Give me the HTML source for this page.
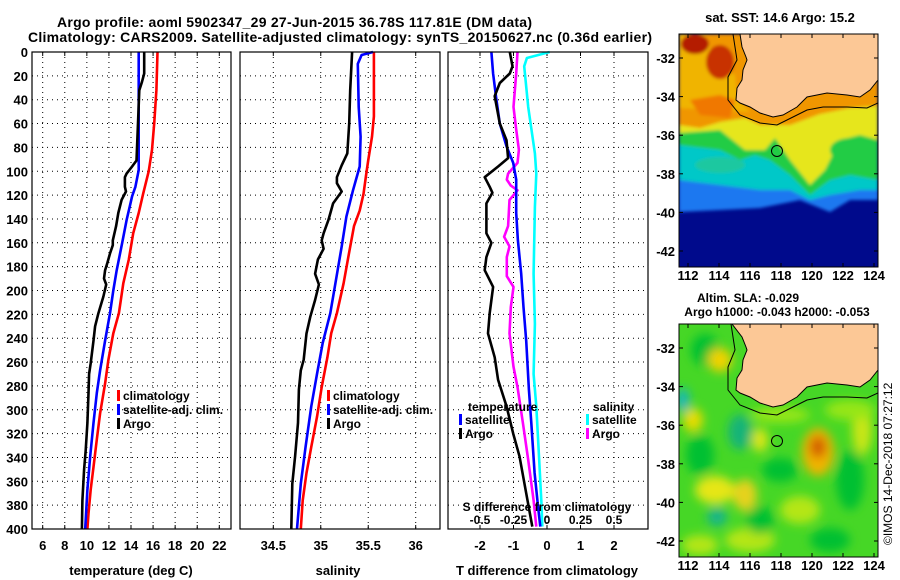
<!DOCTYPE html>
<html><head><meta charset="utf-8"><style>
html,body{margin:0;padding:0;background:#fff;}
svg{display:block;font-family:"Liberation Sans",Arial,sans-serif;font-weight:bold;}
</style></head><body>
<svg id="s" width="900" height="580" viewBox="0 0 900 580" xmlns="http://www.w3.org/2000/svg">
<defs>
<filter id="blur" x="-50%" y="-50%" width="200%" height="200%"><feGaussianBlur stdDeviation="5"/></filter>
<filter id="blur2" x="-20%" y="-20%" width="140%" height="140%"><feGaussianBlur stdDeviation="1.5"/></filter>
<clipPath id="c1"><rect x="679" y="34" width="199" height="233"/></clipPath>
<clipPath id="c2"><rect x="679" y="324" width="199" height="233"/></clipPath>
</defs>
<text x="57" y="27" font-size="14" textLength="475">Argo profile: aoml 5902347_29 27-Jun-2015 36.78S 117.81E (DM data)</text>
<text x="28" y="42" font-size="14" textLength="624">Climatology: CARS2009. Satellite-adjusted climatology: synTS_20150627.nc (0.36d earlier)</text>

<g id="maps">
<g clip-path="url(#c1)">
<rect x="679" y="34" width="199" height="233" fill="#000a8c"/>
<g filter="url(#blur2)">
<polygon points="679,34 878,34 878,200 850,200 830,212 800,200 760,208 720,210 679,212" fill="#1e78f0"/>
<polygon points="679,34 878,34 878,190 860,190 830,195 810,200 790,190 760,190 720,185 679,180" fill="#00c8c8"/>
<polygon points="679,34 878,34 878,180 850,175 830,180 810,195 790,175 770,160 755,155 740,160 720,150 679,145" fill="#22cc44"/>
<polygon points="679,34 878,34 878,140 860,135 840,140 825,170 810,185 790,160 775,138 765,150 745,150 720,130 679,133" fill="#e6e61e"/>
<polygon points="679,34 878,34 878,106 850,108 820,114 790,125 760,125 745,118 720,122 700,128 679,125" fill="#f09600"/>
<polygon points="679,34 705,34 715,60 735,75 738,100 750,112 720,110 679,108" fill="#f0b400"/>
<polygon points="690,100 720,95 735,100 730,118 700,115" fill="#f07800"/>
<ellipse cx="720" cy="62" rx="14" ry="17" fill="#c83200"/>
<ellipse cx="695" cy="44" rx="14" ry="10" fill="#b41e00"/>
<ellipse cx="850" cy="150" rx="20" ry="12" fill="#22cc44"/>
<ellipse cx="720" cy="165" rx="25" ry="8" fill="#1ec8a0"/>
</g>
<polygon points="740,34 742,47 746,57 747,60 743,70 742,80 737,88 736,100 740,103 750,107 760,113 773,117 783,115 797,107 807,97 827,93 847,95 860,97 870,90 878,80 878,34" fill="#fcc896" stroke="#000" stroke-width="1"/>
<polyline points="733,34 737,60 728,77 728,100 740,115 760,123 777,125 793,117 807,110 823,107 847,107 867,108 878,103" fill="none" stroke="#000" stroke-width="1"/>
<circle cx="777" cy="151" r="5.5" fill="none" stroke="#000" stroke-width="1"/>
</g>
<rect x="679" y="34" width="199" height="233" fill="none" stroke="#000"/>

<g clip-path="url(#c2)">
<rect x="679" y="324" width="199" height="233" fill="#46d726"/>
<g filter="url(#blur)">
<ellipse cx="705" cy="350" rx="14" ry="16" fill="#00c030"/>
<ellipse cx="720" cy="360" rx="12" ry="12" fill="#f0d200"/>
<ellipse cx="693" cy="420" rx="10" ry="12" fill="#e6dc00"/>
<ellipse cx="715" cy="490" rx="20" ry="14" fill="#e6e614"/>
<ellipse cx="745" cy="495" rx="12" ry="16" fill="#e6d21e"/>
<ellipse cx="818" cy="452" rx="16" ry="24" fill="#f0b400"/>
<ellipse cx="818" cy="447" rx="8" ry="11" fill="#d25a00"/>
<ellipse cx="800" cy="510" rx="20" ry="14" fill="#b4e614"/>
<ellipse cx="760" cy="440" rx="8" ry="12" fill="#dce614"/>
<ellipse cx="740" cy="432" rx="12" ry="18" fill="#14b478"/>
<ellipse cx="717" cy="517" rx="10" ry="9" fill="#14b48c"/>
<ellipse cx="683" cy="400" rx="6" ry="12" fill="#14b4c8"/>
<ellipse cx="750" cy="540" rx="25" ry="12" fill="#b4e614"/>
<ellipse cx="862" cy="430" rx="10" ry="25" fill="#c8e614"/>
<ellipse cx="700" cy="455" rx="14" ry="20" fill="#00c030"/>
<ellipse cx="780" cy="470" rx="18" ry="12" fill="#00c030"/>
<ellipse cx="850" cy="480" rx="14" ry="30" fill="#00c030"/>
<ellipse cx="760" cy="520" rx="14" ry="14" fill="#00c030"/>
<ellipse cx="830" cy="540" rx="20" ry="12" fill="#00c030"/>
<ellipse cx="700" cy="545" rx="18" ry="10" fill="#b4e614"/>
<ellipse cx="780" cy="415" rx="30" ry="8" fill="#96e614"/>
<ellipse cx="850" cy="410" rx="25" ry="10" fill="#96e614"/>
</g>
<polygon points="732,324 742,337 746,347 747,350 743,360 742,370 737,378 736,390 740,393 750,397 760,403 773,407 783,405 797,397 807,387 827,383 847,385 860,387 870,380 878,370 878,324" fill="#fcc896" stroke="#000" stroke-width="1"/>
<polyline points="731,324 735,350 728,367 728,390 740,405 760,413 777,415 793,407 807,400 823,397 847,397 867,398 878,393" fill="none" stroke="#000" stroke-width="1"/>
<circle cx="777" cy="441" r="5.5" fill="none" stroke="#000" stroke-width="1"/>
</g>
<rect x="679" y="324" width="199" height="233" fill="none" stroke="#000"/>
<text x="780" y="22" font-size="13" text-anchor="middle">sat. SST: 14.6 Argo: 15.2</text>
<text x="748" y="302" font-size="12" text-anchor="middle">Altim. SLA: -0.029</text>
<text x="777" y="316" font-size="12" text-anchor="middle">Argo h1000: -0.043 h2000: -0.053</text>
<text transform="translate(892,545) rotate(-90)" font-size="12" font-weight="normal">©IMOS 14-Dec-2018 07:27:12</text>
</g>
<g id="plots"></g>
</svg>
<script>
// depth axis
const depthTicks=[0,20,40,60,80,100,120,140,160,180,200,220,240,260,280,300,320,340,360,380,400];
// temperature panel
const tempTicks=[6,8,10,12,14,16,18,20,22];
const tClimD=[0,32,60,82,100,119,135,152,174,194,219,236,258,278,303,325,348,367,387,400];
const tClim=[16.4,16.3,16.1,15.9,15.6,15.1,14.7,14.2,13.8,13.3,12.9,12.4,11.95,11.65,11.2,10.9,10.6,10.35,10.15,10.05];
const tSatD=[0,99,113,121,141,160,183,200,219,242,267,286,311,339,367,400];
const tSat=[14.7,14.7,14.4,14.1,13.6,13.2,12.7,12.4,12.1,11.65,11.2,10.9,10.6,10.3,10.05,9.85];
const tArgoD=[0,18,25,32,68,91,96,102,105,113,117,124,135,146,158,162,169,177,183,190,195,205,219,230,242,261,270,286,311,334,350,376,400];
const tArgo=[15.2,15.2,15.0,14.75,14.6,14.5,14.1,13.6,13.45,13.45,13.55,13.15,12.85,12.65,12.35,12.35,12.1,11.85,11.65,11.55,11.75,11.5,11.05,10.75,10.6,10.35,10.2,10.15,10.05,9.9,9.75,9.6,9.55];
// salinity panel
const salTicks=[34.5,35,35.5,36];
const sClimD=[0,54,71,91,102,119,133,146,172,194,219,236,256,281,306,331,353,376,400];
const sClim=[35.56,35.56,35.54,35.50,35.48,35.45,35.41,35.35,35.29,35.24,35.17,35.11,35.07,35.01,34.96,34.90,34.85,34.81,34.79];
const sSatD=[0,2.5,10,46,71,96,116,138,163,191,219,244,270,297,331,362,400];
const sSat=[35.55,35.43,35.39,35.40,35.42,35.41,35.34,35.27,35.22,35.16,35.10,35.02,34.96,34.90,34.84,34.79,34.75];
const sArgoD=[0,32,60,85,95,105,110,117,127,141,152,158,165,174,186,195,208,222,236,258,267,283,311,339,362,400];
const sArgo=[35.33,35.31,35.30,35.28,35.22,35.17,35.17,35.22,35.13,35.08,35.03,35.01,35.03,34.97,34.94,34.98,34.94,34.89,34.85,34.82,34.79,34.77,34.76,34.73,34.70,34.69];
// difference panel
const dTTicks=[-2,-1,0,1,2];
const dSTicks=["-0.5","-0.25","0","0.25","0.5"];
const dTSatD=[0,18,40,60,79,93,107,135,158,186,214,242,283,311,353,381,398];
const dTSat=[-1.66,-1.61,-1.51,-1.41,-1.21,-1.01,-0.92,-0.92,-0.87,-0.77,-0.70,-0.62,-0.54,-0.47,-0.37,-0.27,-0.20];
const dTArgoD=[0,12,18,26,37,60,74,89,96,105,113,118,127,152,160,172,183,197,219,236,256,275,297,320,339,370,398];
const dTArgo=[-1.11,-1.03,-1.11,-1.41,-1.56,-1.41,-1.21,-1.16,-1.46,-1.86,-1.71,-1.63,-1.81,-1.81,-1.66,-1.81,-1.86,-1.61,-1.71,-1.76,-1.56,-1.46,-1.21,-1.01,-0.82,-0.62,-0.44];
const dSSatD=[0,5,12,46,85,102,130,186,228,270,297,339,381,398];
const dSSat=[0.02,-0.15,-0.17,-0.14,-0.09,-0.08,-0.09,-0.10,-0.09,-0.10,-0.08,-0.06,-0.04,-0.035];
const dSArgoD=[0,18,46,65,82,93,102,107,112,116,124,146,155,163,172,188,197,214,236,264,281,311,342,376,398];
const dSArgo=[-0.22,-0.23,-0.25,-0.23,-0.21,-0.22,-0.29,-0.30,-0.27,-0.22,-0.28,-0.29,-0.32,-0.28,-0.30,-0.30,-0.25,-0.27,-0.28,-0.25,-0.22,-0.18,-0.14,-0.10,-0.08];
// map axes
const lonTicks=[112,114,116,118,120,122,124];
const latTicks=[-32,-34,-36,-38,-40,-42];

const NS="http://www.w3.org/2000/svg";
const G=document.getElementById('plots');
function mk(tag,attrs,parent){const e=document.createElementNS(NS,tag);for(const k in attrs)e.setAttribute(k,attrs[k]);(parent||G).appendChild(e);return e;}
const Y0=52,Y1=529;
function yD(d){return Y0+(d/400)*(Y1-Y0);}
function lin(d0,d1,r0,r1){return v=>r0+(v-d0)/(d1-d0)*(r1-r0);}
const xT=lin(6,22,42.7,219.3);
const xS=lin(34.5,36,273.3,415.7);
const xDT=lin(-2,2,480,614);
const xDS=lin(-0.5,0.5,480,614);
const panels=[[32,231],[240,440],[448,648]];

function grid(px,xs){
  depthTicks.forEach(d=>{const y=yD(d);if(d>0&&d<400){const l=mk('line',{x1:px[0],x2:px[1],y1:y,y2:y,stroke:'#000','stroke-dasharray':'1,4','stroke-width':1});
  
  }});
  xs.forEach(x=>{const l=mk('line',{x1:x,x2:x,y1:Y0,y2:Y1,stroke:'#000','stroke-dasharray':'1,4','stroke-width':1});
  
  
  [[Y0,Y0+4],[Y1-4,Y1]].forEach(t=>{const tk=mk('line',{x1:x,x2:x,y1:t[0],y2:t[1],stroke:'#000'});
  
  });});
}
function frame(px,name){const r=mk('rect',{x:px[0],y:Y0,width:px[1]-px[0],height:Y1-Y0,fill:'none',stroke:'#000','stroke-width':1.2});

}
function line(ds,vs,sc,col,name){const pts=[];for(let i=0;i<ds.length;i++){pts.push(sc(vs[i]).toFixed(1)+','+yD(ds[i]).toFixed(1));}
const p=mk('polyline',{points:pts.join(' '),fill:'none',stroke:col,'stroke-width':2.6,'stroke-linejoin':'round'});

}
function txt(x,y,s,anchor,name,size){const t=mk('text',{x:x,y:y,'font-size':size||12,'text-anchor':anchor||'start'});t.textContent=s;

return t;}
function legItem(x,y,col,label,name){const r=mk('rect',{x:x,y:y-10,width:3,height:11,fill:col});


txt(x+6,y,label,'start',name,12);}

depthTicks.forEach(d=>txt(28,yD(d)+5,String(d),'end','depth-tick-label',13));

grid(panels[0],tempTicks.map(xT));
line(tClimD,tClim,xT,'#ff0000','temperature-climatology-line');
line(tSatD,tSat,xT,'#0000ff','temperature-satellite-line');
line(tArgoD,tArgo,xT,'#000000','temperature-argo-line');
frame(panels[0],'temperature-panel-frame');
tempTicks.forEach(v=>txt(xT(v),550,String(v),'middle','temperature-tick-label',13));
txt(131,575,'temperature (deg C)','middle','temperature-axis-title',13);
legItem(117,400,'#ff0000','climatology','legend-climatology');
legItem(117,414,'#0000ff','satellite-adj. clim.','legend-satellite-adj');
legItem(117,428,'#000000','Argo','legend-argo');

grid(panels[1],salTicks.map(xS));
line(sClimD,sClim,xS,'#ff0000','salinity-climatology-line');
line(sSatD,sSat,xS,'#0000ff','salinity-satellite-line');
line(sArgoD,sArgo,xS,'#000000','salinity-argo-line');
frame(panels[1],'salinity-panel-frame');
salTicks.forEach(v=>txt(xS(v),550,String(v),'middle','salinity-tick-label',13));
txt(338,575,'salinity','middle','salinity-axis-title',13);
legItem(327,400,'#ff0000','climatology','legend-sal-climatology');
legItem(327,414,'#0000ff','satellite-adj. clim.','legend-sal-satellite-adj');
legItem(327,428,'#000000','Argo','legend-sal-argo');

grid(panels[2],dTTicks.map(xDT));
line(dSSatD,dSSat,xDS,'#00ffff','salinity-diff-satellite-line');
line(dSArgoD,dSArgo,xDS,'#ff00ff','salinity-diff-argo-line');
line(dTSatD,dTSat,xDT,'#0000ff','temperature-diff-satellite-line');
line(dTArgoD,dTArgo,xDT,'#000000','temperature-diff-argo-line');
frame(panels[2],'difference-panel-frame');
dTTicks.forEach(v=>txt(xDT(v),550,String(v),'middle','t-diff-tick-label',13));
dSTicks.forEach(v=>txt(xDS(parseFloat(v)),524,v,'middle','s-diff-tick-label',12));
txt(547,511,'S difference from climatology','middle','s-diff-axis-title',12);
txt(547,575,'T difference from climatology','middle','t-diff-axis-title',13);
txt(468,411,'temperature','start','legend-temperature-heading',12);
txt(593,411,'salinity','start','legend-salinity-heading',12);
legItem(459,424,'#0000ff','satellite','legend-t-satellite');
legItem(459,438,'#000000','Argo','legend-t-argo');
legItem(586,424,'#00ffff','satellite','legend-s-satellite');
legItem(586,438,'#ff00ff','Argo','legend-s-argo');

const xLon=lin(112,124,688,874);
const yLat1=lin(-32,-42,58,251);
[0,290].forEach((off,mi)=>{
  lonTicks.forEach(v=>{txt(xLon(v),(mi?568:278)+2,String(v),'middle','map-lon-tick-label',13);
    [[34+off,38+off],[263+off,267+off]].forEach(t=>{const k=mk('line',{x1:xLon(v),x2:xLon(v),y1:t[0],y2:t[1],stroke:'#000'});
    
    });});
  latTicks.forEach(v=>{const y=yLat1(v)+off;txt(675,y+5,String(v),'end','map-lat-tick-label',13);
    [[679,683],[874,878]].forEach(t=>{const k=mk('line',{x1:t[0],x2:t[1],y1:y,y2:y,stroke:'#000'});
    
    });});
});
</script>
</body></html>
